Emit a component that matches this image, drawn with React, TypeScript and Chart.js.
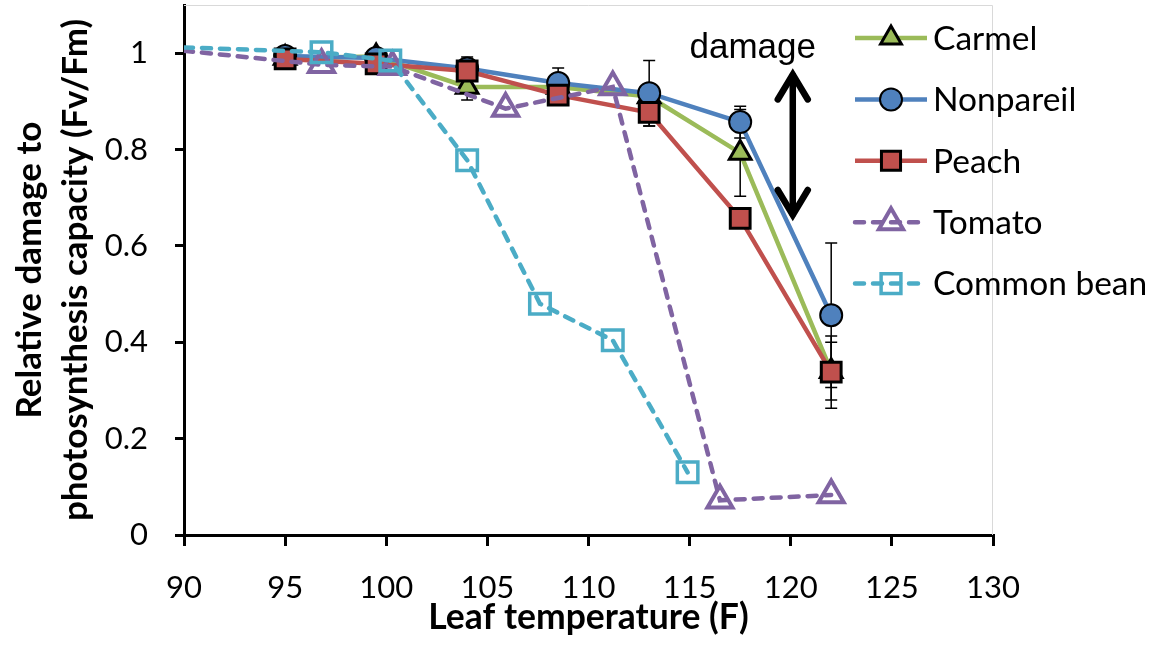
import React, { useEffect, useRef } from 'react';
import { Chart, registerables } from 'chart.js';
import { drawPoint } from 'chart.js/helpers';

Chart.register(...registerables);

// ---------- data ----------
const seriesLabels = ['Carmel', 'Nonpareil', 'Peach', 'Tomato', 'Common bean'];

const almondTemps = [95, 99.5, 104, 108.5, 113, 117.5, 122];
const carmelValues = [0.99, 0.993, 0.93, 0.93, 0.91, 0.793, 0.34];
const carmelErrors = [0, 0, 0.027, 0, 0, 0.09, 0.06];
const nonpareilValues = [0.994, 0.99, 0.968, 0.938, 0.917, 0.857, 0.456];
const nonpareilErrors = [0, 0, 0.024, 0.031, 0.068, 0.033, 0.15];
const peachValues = [0.988, 0.978, 0.963, 0.913, 0.877, 0.657, 0.338];
const peachErrors = [0, 0, 0.02, 0, 0.028, 0, 0.075];

const tomatoTemps = [90, 96.8, 100.3, 105.9, 111.2, 116.5, 122];
const tomatoValues = [1.005, 0.976, 0.972, 0.885, 0.93, 0.072, 0.083];

const beanTemps = [90, 96.8, 100.2, 104, 107.6, 111.2, 114.9];
const beanValues = [1.012, 1.002, 0.985, 0.778, 0.48, 0.404, 0.13];

const xTickValues = [90, 95, 100, 105, 110, 115, 120, 125, 130];
const yTickValues = [0, 0.2, 0.4, 0.6, 0.8, 1];

const xTitle = 'Leaf temperature (F)';
const yTitleLines = ['Relative damage to', 'photosynthesis capacity (Fv/Fm)'];
const damageLabel = 'damage';
const damageArrowX = 120.1;
const damageArrowTop = 0.96;
const damageArrowBottom = 0.66;

// ---------- styles ----------
const FONT = "Lato, 'Open Sans', sans-serif";
const GREEN = '#9BBB59';
const BLUE = '#4F81BD';
const RED = '#C0504D';
const PURPLE = '#8064A2';
const CYAN = '#4BACC6';

const toPoints = (xs: number[], ys: number[]) => xs.map((x, i) => ({ x, y: ys[i] }));

export default function App() {
  const canvasRef = useRef<HTMLCanvasElement | null>(null);

  useEffect(() => {
    document.body.style.margin = '0';
    const canvas = canvasRef.current;
    if (!canvas) return;

    const errorSets = [
      { xs: almondTemps, vals: carmelValues, errs: carmelErrors },
      { xs: almondTemps, vals: nonpareilValues, errs: nonpareilErrors },
      { xs: almondTemps, vals: peachValues, errs: peachErrors },
    ];

    const overlay = {
      id: 'overlay',
      beforeDatasetsDraw(chart: any) {
        const { ctx, chartArea: a, scales } = chart;
        const x = scales.x;
        const y = scales.y;
        ctx.save();
        // plot-area border (top & right)
        ctx.strokeStyle = '#D9D9D9';
        ctx.lineWidth = 1;
        ctx.beginPath();
        ctx.moveTo(a.left, a.top + 0.5);
        ctx.lineTo(a.right - 0.5, a.top + 0.5);
        ctx.lineTo(a.right - 0.5, a.bottom);
        ctx.stroke();
        // error bars
        ctx.strokeStyle = '#000';
        ctx.lineWidth = 1.5;
        errorSets.forEach((s) => {
          s.xs.forEach((xv, i) => {
            const e = s.errs[i];
            if (!e) return;
            const px = x.getPixelForValue(xv);
            const top = y.getPixelForValue(s.vals[i] + e);
            const bot = y.getPixelForValue(s.vals[i] - e);
            ctx.beginPath();
            ctx.moveTo(px, top);
            ctx.lineTo(px, bot);
            ctx.moveTo(px - 6, top);
            ctx.lineTo(px + 6, top);
            ctx.moveTo(px - 6, bot);
            ctx.lineTo(px + 6, bot);
            ctx.stroke();
          });
        });
        ctx.restore();
      },
      afterDraw(chart: any) {
        const { ctx, chartArea: a, scales } = chart;
        const x = scales.x;
        const y = scales.y;
        ctx.save();
        // damage arrow
        const ax = x.getPixelForValue(damageArrowX);
        const at = y.getPixelForValue(damageArrowTop);
        const ab = y.getPixelForValue(damageArrowBottom);
        ctx.strokeStyle = '#000';
        ctx.lineWidth = 6.5;
        ctx.lineCap = 'round';
        ctx.lineJoin = 'miter';
        ctx.beginPath();
        ctx.moveTo(ax, at + 3);
        ctx.lineTo(ax, ab - 3);
        ctx.stroke();
        ctx.beginPath();
        ctx.moveTo(ax - 15, at + 27);
        ctx.lineTo(ax, at + 2);
        ctx.lineTo(ax + 15, at + 27);
        ctx.moveTo(ax - 15, ab - 27);
        ctx.lineTo(ax, ab - 2);
        ctx.lineTo(ax + 15, ab - 27);
        ctx.stroke();
        // damage text
        ctx.fillStyle = '#000';
        ctx.font = "35px 'Liberation Sans', Arial, sans-serif";
        ctx.textAlign = 'center';
        ctx.textBaseline = 'alphabetic';
        ctx.fillText(damageLabel, ax - 40, at - 14);

        // axis titles
        ctx.font = `bold 35.5px ${FONT}`;
        ctx.textAlign = 'center';
        ctx.textBaseline = 'alphabetic';
        ctx.fillText(xTitle, (a.left + a.right) / 2, 629);
        const cy = (a.top + a.bottom) / 2;
        ctx.font = `bold 35px ${FONT}`;
        ctx.save();
        ctx.translate(0, cy);
        ctx.rotate(-Math.PI / 2);
        ctx.fillText(yTitleLines[0], 0, 41);
        ctx.fillText(yTitleLines[1], 0, 87);
        ctx.restore();

        // legend
        const ds = chart.data.datasets;
        ctx.font = `33.5px ${FONT}`;
        ctx.textAlign = 'left';
        ctx.textBaseline = 'middle';
        ds.forEach((d: any, i: number) => {
          const ly = 38 + i * 61.4;
          ctx.save();
          ctx.strokeStyle = d.borderColor;
          ctx.lineWidth = d.borderWidth;
          ctx.setLineDash(d.borderDash || []);
          ctx.lineCap = d.borderDash ? 'round' : 'butt';
          ctx.beginPath();
          ctx.moveTo(855, ly);
          ctx.lineTo(927, ly);
          ctx.stroke();
          ctx.setLineDash([]);
          ctx.fillStyle = d.pointBackgroundColor;
          ctx.strokeStyle = d.pointBorderColor;
          ctx.lineWidth = d.pointBorderWidth;
          drawPoint(ctx, { pointStyle: d.pointStyle, radius: d.legendRadius, rotation: 0, borderWidth: d.pointBorderWidth } as any, 891, ly);
          ctx.restore();
          ctx.fillStyle = '#000';
          ctx.fillText(d.label, 933, ly + 1);
        });
        ctx.restore();
      },
    };

    const chart = new Chart(canvas, {
      type: 'line',
      data: {
        datasets: [
          {
            label: seriesLabels[0],
            data: toPoints(almondTemps, carmelValues),
            borderColor: GREEN,
            borderWidth: 4.5,
            pointStyle: 'triangle',
            pointRadius: 12.5,
            legendRadius: 12,
            pointBackgroundColor: GREEN,
            pointBorderColor: '#000',
            pointBorderWidth: 3,
            order: 5,
          } as any,
          {
            label: seriesLabels[1],
            data: toPoints(almondTemps, nonpareilValues),
            borderColor: BLUE,
            borderWidth: 4.5,
            pointStyle: 'circle',
            pointRadius: 11,
            legendRadius: 11,
            pointBackgroundColor: BLUE,
            pointBorderColor: '#000',
            pointBorderWidth: 2,
            order: 4,
          } as any,
          {
            label: seriesLabels[2],
            data: toPoints(almondTemps, peachValues),
            borderColor: RED,
            borderWidth: 4.5,
            pointStyle: 'rect',
            pointRadius: 14,
            legendRadius: 13.5,
            pointBackgroundColor: RED,
            pointBorderColor: '#000',
            pointBorderWidth: 3,
            order: 3,
          } as any,
          {
            label: seriesLabels[3],
            data: toPoints(tomatoTemps, tomatoValues),
            borderColor: PURPLE,
            borderWidth: 4.5,
            borderDash: [9, 9],
            borderCapStyle: 'round',
            pointStyle: 'triangle',
            pointRadius: tomatoTemps.map((_, i) => (i === 0 ? 0 : 14.5)),
            legendRadius: 14,
            pointBackgroundColor: 'rgba(0,0,0,0)',
            pointBorderColor: PURPLE,
            pointBorderWidth: 4,
            order: 2,
          } as any,
          {
            label: seriesLabels[4],
            data: toPoints(beanTemps, beanValues),
            borderColor: CYAN,
            borderWidth: 4.5,
            borderDash: [9, 9],
            borderCapStyle: 'round',
            pointStyle: 'rect',
            pointRadius: beanTemps.map((_, i) => (i === 0 ? 0 : 14.5)),
            legendRadius: 14,
            pointBackgroundColor: 'rgba(0,0,0,0)',
            pointBorderColor: CYAN,
            pointBorderWidth: 3.5,
            order: 1,
          } as any,
        ],
      },
      options: {
        animation: false,
        responsive: true,
        maintainAspectRatio: false,
        events: [],
        layout: { autoPadding: false, padding: { left: 0, right: 168, top: 5, bottom: 0 } },
        plugins: { legend: { display: false }, tooltip: { enabled: false }, title: { display: false } },
        scales: {
          x: {
            type: 'linear',
            min: 90,
            max: 130,
            afterBuildTicks: (s: any) => {
              s.ticks = xTickValues.map((v) => ({ value: v }));
            },
            afterFit: (s: any) => {
              s.height = 118;
              s.paddingLeft = 0;
              s.paddingRight = 0;
              s.paddingTop = 0;
              s.paddingBottom = 0;
            },
            grid: { drawOnChartArea: false, drawTicks: true, tickLength: 11, color: '#000', lineWidth: 3 },
            border: { display: true, color: '#000', width: 3 },
            ticks: {
              color: '#000',
              font: { family: FONT, size: 31 },
              padding: 23,
              maxRotation: 0,
              autoSkip: false,
            },
          },
          y: {
            type: 'linear',
            min: 0,
            max: 1.1,
            afterBuildTicks: (s: any) => {
              s.ticks = yTickValues.map((v) => ({ value: v }));
            },
            afterFit: (s: any) => {
              s.width = 184;
              s.paddingTop = 0;
              s.paddingBottom = 0;
              s.paddingLeft = 0;
              s.paddingRight = 0;
            },
            grid: { drawOnChartArea: false, drawTicks: true, tickLength: 9, color: '#000', lineWidth: 3 },
            border: { display: true, color: '#000', width: 3 },
            ticks: {
              color: '#000',
              font: { family: FONT, size: 31 },
              padding: 27,
              autoSkip: false,
              callback: (v: any) => String(Math.round(Number(v) * 10) / 10),
            },
          },
        },
      } as any,
      plugins: [overlay],
    });

    return () => chart.destroy();
  }, []);

  return (
    <div style={{ position: 'relative', width: 1161, height: 653 }}>
      <canvas ref={canvasRef} />
    </div>
  );
}
